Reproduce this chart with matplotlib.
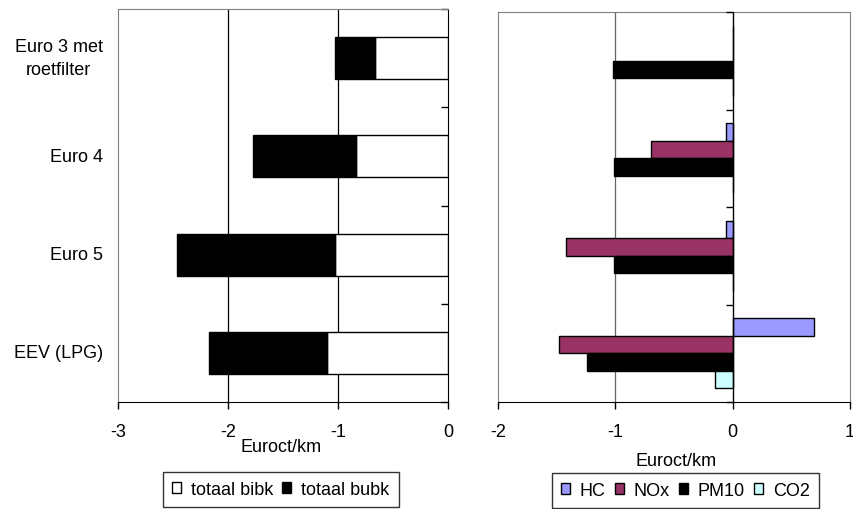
import numpy as np
import matplotlib
matplotlib.use("Agg")
import matplotlib.pyplot as plt
from matplotlib.patches import Patch

plt.rcParams['font.family'] = ['Liberation Sans', 'DejaVu Sans']

categories = ["Euro 3 met\nroetfilter", "Euro 4", "Euro 5", "EEV (LPG)"]

# left panel: stacked totals
totaal_bibk = [-0.665, -0.84, -1.025, -1.10]
totaal_bubk = [-0.365, -0.93, -1.44, -1.07]

# right panel: per pollutant
hc = [0.0, -0.06, -0.06, 0.69]
nox = [0.0, -0.70, -1.42, -1.48]
pm10 = [-1.02, -1.01, -1.01, -1.24]
co2 = [0.0, 0.0, 0.0, -0.15]

left_ticks = [-3, -2, -1, 0]
right_ticks = [-2, -1, 0, 1]

W, H = 854, 510
fig = plt.figure(figsize=(W / 100, H / 100), dpi=100)
FS = 13
FRAME = '#808080'


def px_axes(x0, y0, x1, y1):
    return fig.add_axes([x0 / W, 1 - y1 / H, (x1 - x0) / W, (y1 - y0) / H])


y = np.arange(len(categories))
bounds = np.arange(len(categories) + 1) - 0.5

legend_kw = dict(loc='upper left', fontsize=FS, frameon=True, fancybox=False,
                 edgecolor='black', handlelength=0.5, handleheight=0.5,
                 handletextpad=0.55, columnspacing=0.5, borderpad=0.5,
                 borderaxespad=0)

# ---------------- left panel ----------------
ax1 = px_axes(118, 10, 448, 403)
ax1.set_xlim(-3, 0)
ax1.set_ylim(3.5, -0.5)
bibk = np.array(totaal_bibk)
bubk = np.array(totaal_bubk)
ax1.barh(y, bibk, height=0.43, color='white', edgecolor='black', lw=1, zorder=3)
ax1.barh(y, bubk, left=bibk, height=0.43, color='black', edgecolor='black', lw=1, zorder=3)
for g in [-2, -1]:
    ax1.axvline(g, color='black', lw=0.9, zorder=1)
ax1.set_xticks(left_ticks)
ax1.set_xticklabels([str(t) for t in left_ticks], fontsize=FS)
ax1.tick_params(axis='x', direction='out', length=5, width=1, pad=10)
ax1.set_yticks(y)
ax1.set_yticklabels(categories, fontsize=FS, multialignment='center', linespacing=1.5)
for lbl in ax1.get_yticklabels():
    lbl.set_va('center')
ax1.tick_params(axis='y', which='major', length=0, pad=11)
ax1.set_yticks(bounds, minor=True)
ax1.tick_params(axis='y', which='minor', left=False, right=True, direction='in', length=5, width=1)
for s in ['left', 'top']:
    ax1.spines[s].set_color(FRAME)
ax1.spines['right'].set_color('black')
ax1.spines['bottom'].set_color('black')
ax1.set_xlabel("Euroct/km", fontsize=FS)
ax1.xaxis.set_label_coords(0.494, -0.112)
ax1.xaxis.label.set_va('center')

leg1 = fig.legend(handles=[Patch(facecolor='white', edgecolor='black', lw=1, label='totaal bibk'),
                           Patch(facecolor='black', edgecolor='black', lw=1, label='totaal bubk')],
                  bbox_to_anchor=(163 / W, 1 - 473 / H), ncol=2, **legend_kw)
leg1.get_frame().set_linewidth(1)

# ---------------- right panel ----------------
ax2 = px_axes(498, 13, 850, 403)
ax2.set_xlim(-2, 1)
ax2.set_ylim(3.5, -0.5)
bh = 0.18
series = [(hc, '#9999FF', 'HC'), (nox, '#993366', 'NOx'),
          (pm10, 'black', 'PM10'), (co2, '#CCFFFF', 'CO2')]
for k, (vals, col, lab) in enumerate(series):
    off = (k - 1.5) * bh
    ax2.barh(y + off, vals, height=bh, color=col, edgecolor='black', lw=1, zorder=3)
ax2.axvline(-1, color='#666666', lw=0.9, zorder=1)
ax2.axvline(0, color='black', lw=1, zorder=4)
ax2.plot(np.zeros(len(bounds)), bounds, ls='none', marker=0, ms=5, mew=1,
         color='black', zorder=4, clip_on=False)
ax2.set_yticks([])
ax2.set_xticks(right_ticks)
ax2.set_xticklabels([str(t) for t in right_ticks], fontsize=FS)
ax2.tick_params(axis='x', direction='out', length=5, width=1, pad=10)
for s in ['left', 'top', 'right']:
    ax2.spines[s].set_color(FRAME)
ax2.spines['bottom'].set_color('black')
ax2.set_xlabel("Euroct/km", fontsize=FS)
ax2.xaxis.set_label_coords(0.505, -0.15)
ax2.xaxis.label.set_va('center')

leg2 = fig.legend(handles=[Patch(facecolor=c, edgecolor='black', lw=1, label=l) for _, c, l in series],
                  bbox_to_anchor=(552 / W, 1 - 474 / H), ncol=4, **legend_kw)
leg2.get_frame().set_linewidth(1)

fig.savefig("out.png", dpi=100)
